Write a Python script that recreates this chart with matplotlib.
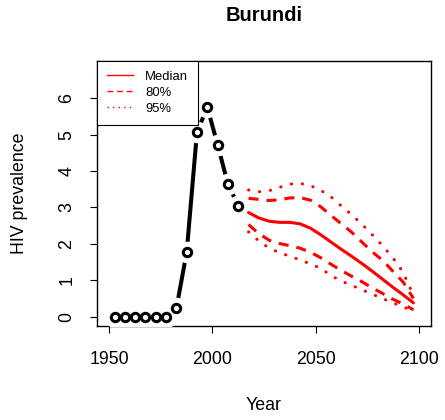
import matplotlib
matplotlib.use('Agg')
import matplotlib.pyplot as plt
from matplotlib.lines import Line2D

# 数据
country = 'Burundi'
obs_years = [1952.5, 1957.5, 1962.5, 1967.5, 1972.5, 1977.5, 1982.5,
             1987.5, 1992.5, 1997.5, 2002.5, 2007.5, 2012.5]
obs_prev = [0.0, 0.0, 0.0, 0.0, 0.0, 0.0, 0.23,
            1.77, 5.07, 5.75, 4.72, 3.64, 3.05]

proj_years = [2017.5, 2022.5, 2027.5, 2032.5, 2037.5, 2042.5, 2047.5, 2052.5, 2057.5,
              2062.5, 2067.5, 2072.5, 2077.5, 2082.5, 2087.5, 2092.5, 2097.5]
median = [2.86, 2.71, 2.62, 2.59, 2.59, 2.55, 2.43, 2.25, 2.05,
          1.85, 1.66, 1.46, 1.25, 1.03, 0.81, 0.60, 0.38]
upper80 = [3.25, 3.22, 3.19, 3.21, 3.26, 3.27, 3.20, 3.02, 2.78,
           2.55, 2.32, 2.05, 1.78, 1.55, 1.25, 0.95, 0.50]
lower80 = [2.53, 2.28, 2.10, 2.01, 1.95, 1.88, 1.77, 1.62, 1.44,
           1.27, 1.11, 0.96, 0.79, 0.64, 0.48, 0.35, 0.19]
upper95 = [3.48, 3.43, 3.46, 3.55, 3.64, 3.66, 3.60, 3.47, 3.29,
           3.04, 2.80, 2.54, 2.25, 1.95, 1.62, 1.22, 0.58]
lower95 = [2.33, 2.08, 1.88, 1.76, 1.66, 1.56, 1.45, 1.33, 1.13,
           0.98, 0.86, 0.74, 0.62, 0.50, 0.38, 0.27, 0.16]

x_ticks = [1950, 2000, 2050, 2100]
y_ticks = [0, 1, 2, 3, 4, 5, 6]
legend_labels = ['Median', '80%', '95%']

plt.rcParams['font.family'] = ['Liberation Sans', 'DejaVu Sans']
fs = 12.8

fig = plt.figure(figsize=(4.45, 4.2), dpi=100)
ax = fig.add_axes([0.218, 0.2238, 0.7505, 0.631])

# 观测值: 类似R的type="b"
lw_b = 2.9
ax.plot(obs_years, obs_prev, color='black', lw=lw_b, solid_capstyle='butt', zorder=2)
ax.plot(obs_years, obs_prev, ls='none', marker='o', ms=14.5, mfc='white', mec='white', zorder=3)
ax.plot(obs_years, obs_prev, ls='none', marker='o', ms=6, mfc='white', mec='black', mew=2.2, zorder=4)

# 预测
lw_r = 2.2
ax.plot(proj_years, median, color='red', lw=lw_r, solid_capstyle='round', zorder=5)
ax.plot(proj_years, upper80, color='red', lw=lw_r, ls=(0, (3.3, 2.6)),
        dash_capstyle='butt', zorder=5)
ax.plot(proj_years, lower80, color='red', lw=lw_r, ls=(0, (3.3, 2.6)),
        dash_capstyle='butt', zorder=5)
ax.plot(proj_years, upper95, color='red', lw=lw_r, ls=(0, (0.1, 3.5)),
        dash_capstyle='round', zorder=5)
ax.plot(proj_years, lower95, color='red', lw=lw_r, ls=(0, (0.1, 3.5)),
        dash_capstyle='round', zorder=5)

ax.set_xlim(1944, 2106)
ax.set_ylim(-0.255, 7.02)
ax.set_xticks(x_ticks)
ax.set_yticks(y_ticks)
ax.set_yticklabels([str(v) for v in y_ticks], rotation=90, va='center')
ax.tick_params(axis='both', length=5, width=0.8, labelsize=fs, color='black')
ax.tick_params(axis='x', pad=13)
ax.tick_params(axis='y', pad=10.7)
for s in ax.spines.values():
    s.set_linewidth(1.0)

# 标题和轴标签
fig.text(0.593, 0.0357, 'Year', ha='center', va='center', fontsize=fs)
fig.text(0.043, 0.539, 'HIV prevalence', ha='center', va='center', rotation=90, fontsize=fs)
fig.text(0.593, 0.962, country, ha='center', va='center', fontsize=14.5, fontweight='bold')

# 图例 (细线)
handles = [Line2D([], [], color='red', lw=1.0),
           Line2D([], [], color='red', lw=1.0, ls=(0, (4, 3))),
           Line2D([], [], color='red', lw=1.0, ls=(0, (1, 3)))]
leg = ax.legend(handles, legend_labels, loc='upper left', bbox_to_anchor=(0, 1), borderaxespad=0,
                fontsize=9.4, handlelength=2.04, handletextpad=0.89, borderpad=0.75,
                labelspacing=0.3, fancybox=False, framealpha=1, edgecolor='black')
leg.get_frame().set_linewidth(0.8)
leg.set_zorder(10)

plt.savefig('out.png', dpi=100)
